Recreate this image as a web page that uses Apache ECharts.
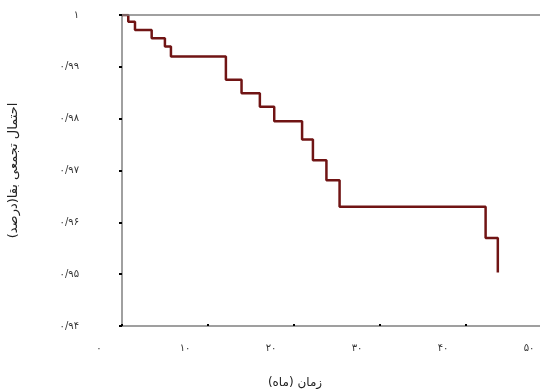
<!DOCTYPE html>
<html>
<head>
<meta charset="utf-8">
<script src="https://cdn.jsdelivr.net/npm/echarts@6/dist/echarts.min.js"></script>
<style>
  html, body { margin: 0; padding: 0; background: #fff; }
  #chart { width: 540px; height: 389px; }
</style>
</head>
<body>
<div id="chart"></div>
<script>
// زمان (ماه) - step points of the survival curve
const months = [0, 0.73, 1.51, 3.45, 4.99, 5.69, 12.08, 13.9, 16.03, 17.7, 20.94, 22.2, 23.77, 25.3, 42.28, 43.7];
const survival = [1.0, 0.9987, 0.9971, 0.9955, 0.9939, 0.992, 0.9875, 0.9849, 0.9823, 0.9795, 0.976, 0.972, 0.9681, 0.963, 0.957, 0.9503];

const xTicks = [0, 10, 20, 30, 40, 50];
const yTicks = [0.94, 0.95, 0.96, 0.97, 0.98, 0.99, 1];

const faDigits = ['۰', '۱', '۲', '۳', '۴', '۵', '۶', '۷', '۸', '۹'];
const toFa = s => String(s).replace(/\d/g, d => faDigits[d]).replace('.', '/');

const chart = echarts.init(document.getElementById('chart'));
const font = 'DejaVu Sans, Noto Sans, sans-serif';

chart.setOption({
  backgroundColor: '#fff',
  animation: false,
  grid: { left: 122, top: 15, right: -12, bottom: 63, outerBoundsMode: 'none', containLabel: false },
  xAxis: {
    type: 'value',
    min: xTicks[0],
    max: xTicks[xTicks.length - 1],
    interval: 10,
    name: 'زمان (ماه)',
    nameLocation: 'middle',
    nameGap: 51,
    nameTextStyle: { fontFamily: font, fontSize: 12, color: '#222', padding: [0, 84, 0, 0] },
    axisLine: { lineStyle: { color: '#808080', width: 1.5 } },
    axisTick: { show: true, inside: true, length: 2, lineStyle: { color: '#000', width: 2 } },
    axisLabel: {
      fontFamily: font, fontSize: 10, color: '#333', margin: 17,
      padding: [0, 46, 0, 0],
      formatter: v => toFa(v)
    },
    splitLine: { show: false }
  },
  yAxis: {
    type: 'value',
    min: yTicks[0],
    max: yTicks[yTicks.length - 1],
    interval: 0.01,
    name: 'احتمال تجمعی بقا(درصد)',
    nameLocation: 'middle',
    nameGap: 102,
    nameRotate: 90,
    nameTextStyle: { fontFamily: font, fontSize: 13, color: '#222' },
    axisLine: { show: true, lineStyle: { color: '#808080', width: 1.5 } },
    axisTick: { show: true, length: 3, lineStyle: { color: '#000', width: 2 } },
    axisLabel: {
      fontFamily: font, fontSize: 10, color: '#333', margin: 43,
      formatter: v => toFa(Math.round(v * 100) / 100)
    },
    splitLine: { show: false }
  },
  series: [{
    type: 'line',
    step: 'end',
    showSymbol: false,
    data: months.map((m, i) => [m, survival[i]]),
    lineStyle: { color: '#701414', width: 2.5 },
    markLine: {
      silent: true,
      symbol: 'none',
      label: { show: false },
      lineStyle: { color: '#808080', width: 1.5, type: 'solid' },
      data: [{ yAxis: 1 }]
    }
  }]
});
</script>
</body>
</html>
